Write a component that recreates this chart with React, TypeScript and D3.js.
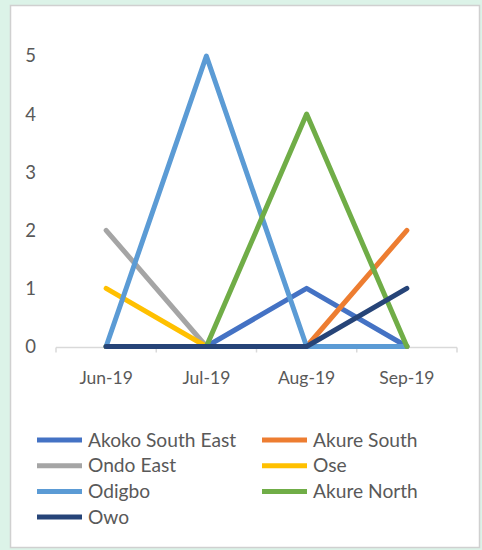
import React from "react";
import * as d3 from "d3";

const categories = ["Jun-19", "Jul-19", "Aug-19", "Sep-19"];
const seriesNames = ["Akoko South East", "Akure South", "Ondo East", "Ose", "Odigbo", "Akure North", "Owo"];
const seriesColors = ["#4472C4", "#ED7D31", "#A5A5A5", "#FFC000", "#5B9BD5", "#70AD47", "#264478"];
const akokoSouthEast = [0, 0, 1, 0];
const akureSouth = [0, 0, 0, 2];
const ondoEast = [2, 0, 0, 0];
const ose = [1, 0, 0, 0];
const odigbo = [0, 5, 0, 0];
const akureNorth = [0, 0, 4, 0];
const owo = [0, 0, 0, 1];
const seriesValues = [akokoSouthEast, akureSouth, ondoEast, ose, odigbo, akureNorth, owo];
const yTicks = [0, 1, 2, 3, 4, 5];

export default function App() {
  const W = 482, H = 550;
  const plotLeft = 56, plotRight = 457;
  const x = d3.scaleBand<string>().domain(categories).range([plotLeft, plotRight]);
  const y = d3.scaleLinear().domain([0, 5]).range([346.5, 56]);
  const line = d3.line<number>()
    .x((_, i) => (x(categories[i]) as number) + x.bandwidth() / 2)
    .y((d) => y(d));
  const font = "Lato, 'Open Sans', sans-serif";
  const tickEdges = [...categories.map((c) => x(c) as number), plotRight];
  return (
    <svg width={W} height={H} style={{ position: "absolute", left: 0, top: 0, display: "block" }}>
      <rect x={0} y={0} width={W} height={H} fill="#dcf3e8" />
      <rect x={10.5} y={5.5} width={469} height={542} fill="#ffffff" stroke="#d0d0d0" strokeWidth={1.5} />
      {yTicks.map((t) => (
        <text key={t} x={36} y={y(t)} dy="0.35em" textAnchor="end" fontSize={18.5} fill="#595959" fontFamily={font}>
          {t}
        </text>
      ))}
      <line x1={plotLeft} x2={plotRight} y1={y(0) + 1} y2={y(0) + 1} stroke="#d9d9d9" strokeWidth={1.5} />
      {tickEdges.map((tx, i) => (
        <line key={i} x1={tx} x2={tx} y1={y(0) + 1} y2={y(0) + 6} stroke="#d9d9d9" strokeWidth={1.5} />
      ))}
      {categories.map((c) => (
        <text key={c} x={(x(c) as number) + x.bandwidth() / 2} y={378} dy="0.35em" textAnchor="middle" fontSize={17.5} fill="#595959" fontFamily={font}>
          {c}
        </text>
      ))}
      {seriesValues.map((vals, i) => (
        <path key={seriesNames[i]} d={line(vals) || ""} fill="none" stroke={seriesColors[i]} strokeWidth={5} strokeLinejoin="round" strokeLinecap="round" />
      ))}
      {seriesNames.map((name, i) => {
        const col = i % 2;
        const row = Math.floor(i / 2);
        const lx = col === 0 ? 37 : 262;
        const ly = 440 + row * 25.7;
        return (
          <g key={name}>
            <line x1={lx} x2={lx + 45} y1={ly} y2={ly} stroke={seriesColors[i]} strokeWidth={5} />
            <text x={lx + 51} y={ly} dy="0.35em" fontSize={19.2} fill="#595959" fontFamily={font}>
              {name}
            </text>
          </g>
        );
      })}
    </svg>
  );
}
